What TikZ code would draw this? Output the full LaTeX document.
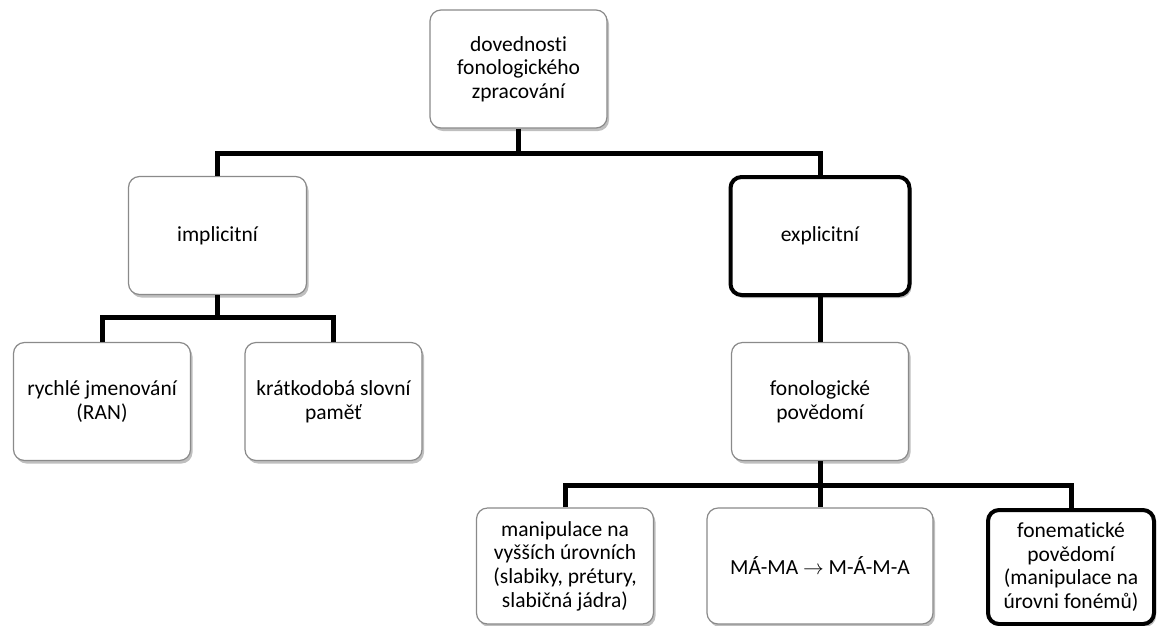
\documentclass[tikz,border=0pt]{standalone}
\usepackage{fontspec}
\setmainfont{Carlito}[Ligatures=NoCommon]
\usetikzlibrary{shadows}
\definecolor{boxgrey}{HTML}{8A8A8A}
\tikzset{
  box/.style={draw=boxgrey, line width=1.2pt, rounded corners=11pt, fill=white,
    minimum width=177pt, minimum height=118pt, align=center, inner sep=2pt,
    font=\fontsize{21.5}{23.6}\selectfont,
    drop shadow={shadow xshift=2pt, shadow yshift=-3pt, opacity=0.25, fill=black}},
  thickbox/.style={box, draw=black, line width=4pt},
  conn/.style={draw=black, line width=5pt}
}
\begin{document}
\begin{tikzpicture}[x=1pt,y=-1pt]
\fill[white] (0,0) rectangle (1157,625);
\useasboundingbox (0,0) rectangle (1157,625);
\begin{scope}
\clip (0,0) rectangle (1157,625);
% nodes
\node[box] (top) at (518.5,69) {dovednosti\\fonologického\\zpracování};
\node[box, minimum width=178pt] (impl) at (217.5,235.5) {implicitní};
\node[thickbox, minimum width=179pt] (expl) at (820,236) {explicitní};
\node[box] (ran) at (102,401.5) {rychlé jmenování\\(RAN)};
\node[box] (krat) at (333.5,401.5) {krátkodobá slovní\\paměť};
\node[box] (fono) at (820,401.5) {fonologické\\povědomí};
\node[box, minimum height=116pt] (b1) at (565,566) {manipulace na\\vyšších úrovních\\(slabiky, prétury,\\slabičná jádra)};
\node[box, minimum width=226pt, minimum height=116pt] (b2) at (820,566) {MÁ-MA $\rightarrow$ M-Á-M-A};
\node[thickbox, minimum width=166pt, minimum height=114pt] (b3) at (1071,567) {fonematické\\povědomí\\(manipulace na\\úrovni fonémů)};
% junctions
\coordinate (j1) at (518.5,153);
\coordinate (j2) at (217.5,317);
\coordinate (j3) at (820,485);
% connectors
\draw[conn] (top.south) -- (j1);
\draw[conn] (impl.north) |- (j1) -| (expl.north);
\draw[conn] (impl.south) -- (j2);
\draw[conn] (ran.north) |- (j2) -| (krat.north);
\draw[conn] (expl.south) -- (fono.north);
\draw[conn] (fono.south) -- (j3);
\draw[conn] (b1.north) |- (j3) -| (b3.north);
\draw[conn] (j3) -- (b2.north);
\end{scope}
\end{tikzpicture}
\end{document}
